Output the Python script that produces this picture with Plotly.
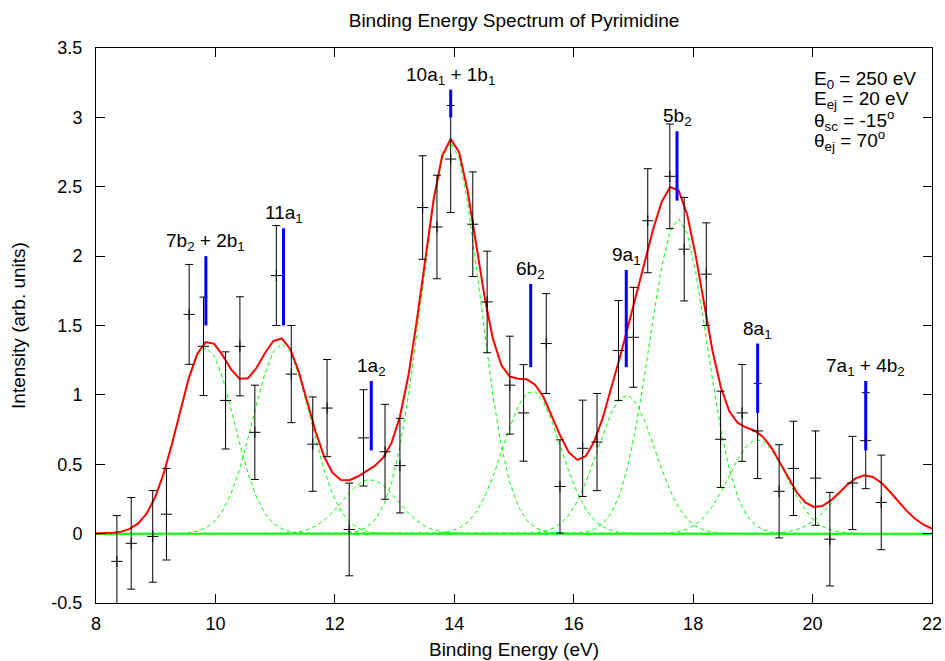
import numpy as np
import plotly.graph_objects as go

# ---- experimental data (binding energy, intensity, error) ----
energy = [8.35, 8.59, 8.95, 9.18, 9.56, 9.80, 10.17, 10.41, 10.66, 11.02, 11.27,
          11.63, 11.87, 12.24, 12.48, 12.84, 13.09, 13.47, 13.71, 13.94, 14.31,
          14.55, 14.93, 15.16, 15.54, 15.77, 16.15, 16.39, 16.75, 17.00, 17.24,
          17.61, 17.85, 18.22, 18.46, 18.82, 19.08, 19.44, 19.68, 20.05, 20.29,
          20.67, 20.89, 21.15]
intensity = [-0.20, -0.07, -0.02, 0.14, 1.58, 1.35, 0.96, 1.35, 0.73, 1.86, 1.15,
             0.645, 0.905, 0.03, 0.69, 0.59, 0.49, 2.35, 2.21, 2.70, 2.23,
             1.67, 1.07, 0.87, 1.37, 0.34, 0.615, 0.66, 1.32, 1.415, 2.255,
             2.575, 2.05, 1.87, 0.68, 0.87, 0.74, 0.305, 0.47, 0.40, -0.04,
             0.365, 0.67, 0.225]
error = [0.33, 0.33, 0.33, 0.33, 0.36, 0.355, 0.35, 0.357, 0.34, 0.36, 0.35,
         0.34, 0.35, 0.334, 0.347, 0.342, 0.341, 0.373, 0.373, 0.386, 0.377,
         0.366, 0.353, 0.348, 0.36, 0.336, 0.347, 0.35, 0.36, 0.36, 0.375,
         0.377, 0.373, 0.37, 0.347, 0.349, 0.343, 0.336, 0.34, 0.34, 0.337,
         0.336, 0.346, 0.341]

# ---- fitted Gaussian components (centre, height, width) ----
fit_centre = [9.84, 11.11, 12.59, 13.94, 15.30, 16.88, 17.75, 19.08, 20.89]
fit_height = [1.34, 1.37, 0.39, 2.82, 1.03, 1.00, 2.27, 0.68, 0.42]
fit_sigma = [0.47, 0.48, 0.46, 0.49, 0.48, 0.48, 0.48, 0.48, 0.50]

# ---- orbital assignments (blue bars) ----
orbital_labels = ["7b<sub>2</sub> + 2b<sub>1</sub>", "11a<sub>1</sub>", "1a<sub>2</sub>",
                  "10a<sub>1</sub> + 1b<sub>1</sub>", "6b<sub>2</sub>", "9a<sub>1</sub>",
                  "5b<sub>2</sub>", "8a<sub>1</sub>", "7a<sub>1</sub> + 4b<sub>2</sub>"]
orbital_energy = [9.84, 11.14, 12.61, 13.94, 15.28, 16.88, 17.73, 19.08, 20.89]
bar_top = [2.0, 2.2, 1.1, 3.2, 1.8, 1.9, 2.9, 1.37, 1.1]
bar_bottom = [1.5, 1.5, 0.6, 3.0, 1.2, 1.2, 2.4, 0.87, 0.6]

# ---- axes ----
x_ticks = [8, 10, 12, 14, 16, 18, 20, 22]
y_ticks = [-0.5, 0, 0.5, 1, 1.5, 2, 2.5, 3, 3.5]
y_tick_labels = ["-0.5", "0", "0.5", "1", "1.5", "2", "2.5", "3", "3.5"]

info_lines = ["E<sub>0</sub> = 250 eV", "E<sub>ej</sub> = 20 eV",
              "θ<sub>sc</sub> = -15<sup>o</sup>", "θ<sub>ej</sub> = 70<sup>o</sup>"]

FONT = "Liberation Sans, Arial, Helvetica, sans-serif"
FS = 19
FT = 18

xs = np.linspace(8, 22, 100)
comps = [h * np.exp(-(xs - c) ** 2 / (2 * s ** 2))
         for c, h, s in zip(fit_centre, fit_height, fit_sigma)]
total = np.sum(comps, axis=0)

fig = go.Figure()

# baseline
fig.add_trace(go.Scatter(x=[8, 22], y=[0, 0], mode="lines",
                         line=dict(color="#00ff00", width=2), hoverinfo="skip"))
# components
for comp in comps:
    fig.add_trace(go.Scatter(x=xs, y=comp, mode="lines",
                             line=dict(color="#00ff00", width=1, dash="4px,3px"),
                             hoverinfo="skip"))
# sum
fig.add_trace(go.Scatter(x=xs, y=total, mode="lines",
                         line=dict(color="#ff0000", width=2)))

# error bars
fig.add_trace(go.Scatter(x=energy, y=intensity, mode="markers",
                         marker=dict(size=0.1, color="rgba(0,0,0,0)"),
                         error_y=dict(type="data", array=error, visible=True,
                                      color="black", thickness=1, width=4)))

# blue bars
bx, by = [], []
for e, t, b in zip(orbital_energy, bar_top, bar_bottom):
    bx += [e, e, None]
    by += [b, t, None]
fig.add_trace(go.Scatter(x=bx, y=by, mode="lines",
                         line=dict(color="#0000ff", width=3), hoverinfo="skip"))

# data markers
fig.add_trace(go.Scatter(x=energy, y=intensity, mode="markers",
                         marker=dict(symbol="cross-thin", size=8,
                                     line=dict(color="black", width=1))))

for lab, e, t in zip(orbital_labels, orbital_energy, bar_top):
    fig.add_annotation(x=e, y=t, text=lab, showarrow=False, xanchor="center",
                       yanchor="bottom", yshift=0, font=dict(size=FS, color="black"))

info_y = [3.27, 3.125, 2.98, 2.83]
for txt, yy in zip(info_lines, info_y):
    fig.add_annotation(xref="paper", x=0.8565, y=yy, text=txt, showarrow=False,
                       xanchor="left", yanchor="middle",
                       font=dict(size=FS, color="black"))

axis_common = dict(showline=True, linecolor="black", linewidth=1, mirror="ticks",
                   ticks="inside", ticklen=9, tickcolor="black", tickwidth=1,
                   showgrid=False, zeroline=False, automargin=False,
                   tickfont=dict(size=FT, color="black"))

fig.update_layout(
    width=945, height=661,
    margin=dict(l=96, r=13, t=48, b=58),
    paper_bgcolor="white", plot_bgcolor="white",
    font=dict(family=FONT, size=FS, color="black"),
    showlegend=False,
    title=dict(text="Binding Energy Spectrum of Pyrimidine", xref="paper", x=0.5,
               xanchor="center", yref="container", y=1 - 20 / 661, yanchor="middle",
               font=dict(size=FS, color="black")),
    xaxis=dict(range=[8, 22], tickvals=x_ticks,
               title=dict(text="Binding Energy (eV)", standoff=10,
                          font=dict(size=FS)),
               ticklabelstandoff=4, **axis_common),
    yaxis=dict(range=[-0.5, 3.5], tickvals=y_ticks, ticktext=y_tick_labels,
               title=dict(text="Intensity (arb. units)", standoff=20,
                          font=dict(size=FS)),
               ticklabelstandoff=9, **axis_common),
)

fig.write_html("out.html",
               config={"displayModeBar": False},
               post_script="document.body.style.margin='0';"
                           "document.body.style.overflow='hidden';")
